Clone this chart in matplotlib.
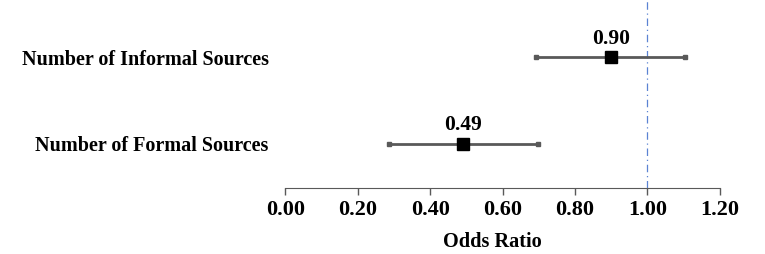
import matplotlib.pyplot as plt

labels = ["Number of Formal Sources", "Number of Informal Sources"]
odds = [0.49, 0.90]
ci_low = [0.287, 0.692]
ci_high = [0.697, 1.103]
ypos = [1, 2]

plt.rcParams["font.family"] = "Liberation Serif"
plt.rcParams["font.weight"] = "bold"

fig = plt.figure(figsize=(7.65, 2.54), dpi=100)
ax = fig.add_axes([0.373, 0.26, 0.568, 0.74])

ax.axvline(1.0, color="#5B83D3", lw=0.9, ls=(0, (6, 3, 1, 3)), zorder=1)

for y, o, lo, hi in zip(ypos, odds, ci_low, ci_high):
    ax.plot([lo, hi], [y, y], color="#595959", lw=2.0, zorder=2)
    ax.plot([lo, hi], [y, y], ls="none", marker="s", ms=2.5, color="#595959", zorder=2)
    ax.plot(o, y, marker="s", ms=8, color="black", zorder=3)
    ax.annotate(f"{o:.2f}", (o, y), xytext=(0, 6), textcoords="offset points",
                ha="center", va="bottom", fontsize=15.5, fontweight="bold")

ax.set_xlim(0, 1.2)
ax.set_ylim(0.49, 2.66)
ax.set_xticks([0, 0.2, 0.4, 0.6, 0.8, 1.0, 1.2])
ax.set_xticklabels([f"{v:.2f}" for v in [0, 0.2, 0.4, 0.6, 0.8, 1.0, 1.2]])
ax.set_yticks(ypos)
ax.set_yticklabels(labels)
ax.tick_params(axis="y", length=0, pad=12, labelsize=14.5)
ax.tick_params(axis="x", length=5, width=1, color="#595959", pad=4, labelsize=16)
for s in ["top", "right", "left"]:
    ax.spines[s].set_visible(False)
ax.spines["bottom"].set_color("#595959")
ax.set_xlabel("Odds Ratio", fontsize=14.6, fontweight="bold")
ax.xaxis.set_label_coords(0.477, -0.235)

fig.savefig("out.png", dpi=100)
